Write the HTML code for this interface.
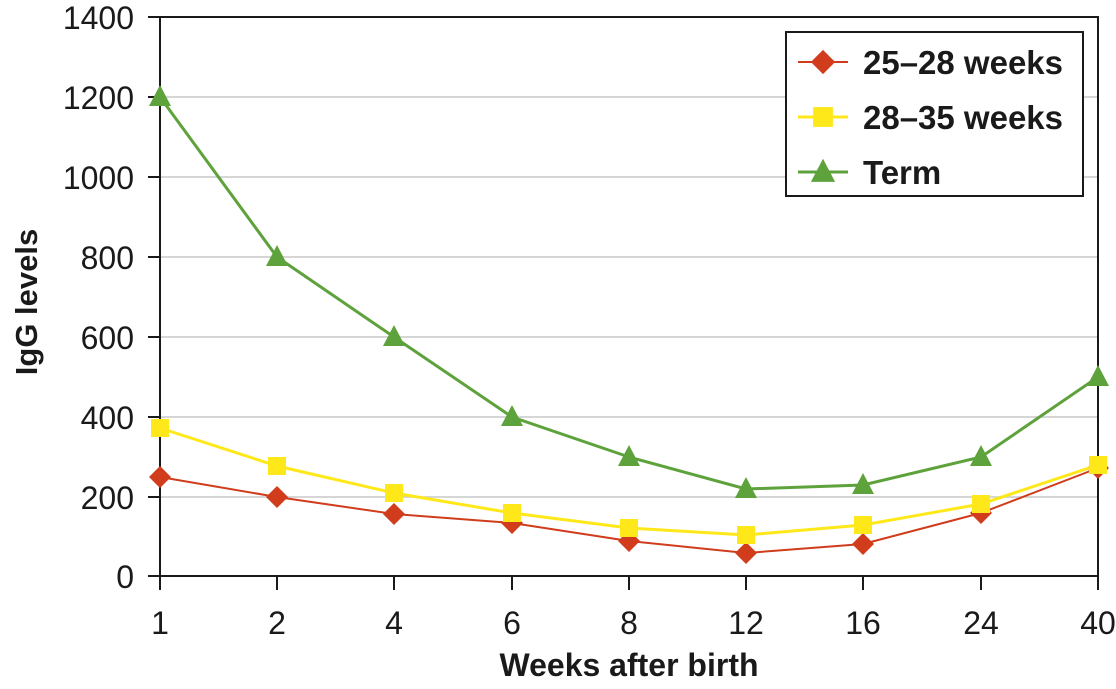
<!DOCTYPE html>
<html><head><style>
body{margin:0;background:#fff;}
text{font-family:"Liberation Sans",Arial,sans-serif;fill:#1a1a1a;}
</style></head><body>
<svg id="s" width="1116" height="684" xmlns="http://www.w3.org/2000/svg">
<g stroke="#c8c8c8" stroke-width="1.5">
<line x1="160" y1="97" x2="1098" y2="97"/><line x1="160" y1="177" x2="1098" y2="177"/>
<line x1="160" y1="257" x2="1098" y2="257"/><line x1="160" y1="337" x2="1098" y2="337"/>
<line x1="160" y1="417" x2="1098" y2="417"/><line x1="160" y1="497" x2="1098" y2="497"/>
</g>
<g stroke="#1a1a1a" stroke-width="2" fill="none">
<rect x="160" y="17" width="938" height="559"/>
<line x1="148" y1="17" x2="160" y2="17"/><line x1="148" y1="97" x2="160" y2="97"/>
<line x1="148" y1="177" x2="160" y2="177"/><line x1="148" y1="257" x2="160" y2="257"/>
<line x1="148" y1="337" x2="160" y2="337"/><line x1="148" y1="417" x2="160" y2="417"/>
<line x1="148" y1="497" x2="160" y2="497"/><line x1="148" y1="576" x2="160" y2="576"/>
<line x1="160" y1="576" x2="160" y2="590"/><line x1="277" y1="576" x2="277" y2="590"/>
<line x1="394" y1="576" x2="394" y2="590"/><line x1="512" y1="576" x2="512" y2="590"/>
<line x1="629" y1="576" x2="629" y2="590"/><line x1="746" y1="576" x2="746" y2="590"/>
<line x1="863" y1="576" x2="863" y2="590"/><line x1="981" y1="576" x2="981" y2="590"/>
<line x1="1098" y1="576" x2="1098" y2="590"/>
</g>
<g font-size="32" text-anchor="end">
<text x="134" y="29">1400</text><text x="134" y="109">1200</text><text x="134" y="189">1000</text>
<text x="134" y="269">800</text><text x="134" y="349">600</text><text x="134" y="429">400</text>
<text x="134" y="509">200</text><text x="134" y="588">0</text>
</g>
<g font-size="32" text-anchor="middle">
<text x="160" y="634">1</text><text x="277" y="634">2</text><text x="394" y="634">4</text>
<text x="512" y="634">6</text><text x="629" y="634">8</text><text x="746" y="634">12</text>
<text x="863" y="634">16</text><text x="981" y="634">24</text><text x="1098" y="634">40</text>
</g>
<text x="629" y="676" font-size="32" font-weight="bold" text-anchor="middle">Weeks after birth</text>
<text transform="translate(37,302) rotate(-90)" font-size="31" font-weight="bold" text-anchor="middle">IgG levels</text>
<g id="series"></g>
<rect x="786" y="32" width="297" height="164" fill="#fff" stroke="#1a1a1a" stroke-width="2"/>
<g font-size="33" font-weight="bold">
<text x="863" y="74">25–28 weeks</text><text x="863" y="129">28–35 weeks</text><text x="863" y="184">Term</text>
</g>
<g id="leg"></g>
</svg>
<script>
var X=[160,277,394,512,629,746,863,981,1098];
var S=[
 {c:"#d03c1c",w:2,m:"d",y:[477,497,514,523,541,553,544,513,468]},
 {c:"#ffe81a",w:3,m:"s",y:[428,466,493,513,528,535,525,504,465]},
 {c:"#5ea23c",w:3,m:"t",y:[97,257,337,417,457,489,485,457,377]}];
var ns="http://www.w3.org/2000/svg";
function el(p,t,a){var e=document.createElementNS(ns,t);for(var k in a)e.setAttribute(k,a[k]);p.appendChild(e);return e;}
function mark(g,m,x,y,c,k){
 k=k||1;
 if(m=="d")el(g,"polygon",{points:x+","+(y-11*k)+" "+(x+11*k)+","+y+" "+x+","+(y+11*k)+" "+(x-11*k)+","+y,fill:c});
 else if(m=="s")el(g,"rect",{x:x-9*k,y:y-9*k,width:18*k,height:18*k,fill:c});
 else el(g,"polygon",{points:x+","+(y-12*k)+" "+(x+11*k)+","+(y+9*k)+" "+(x-11*k)+","+(y+9*k),fill:c});
}
var g=document.getElementById("series"),L=document.getElementById("leg");
S.forEach(function(s,i){
 el(g,"polyline",{points:X.map(function(x,j){return x+","+s.y[j]}).join(" "),fill:"none",stroke:s.c,"stroke-width":s.w});
 X.forEach(function(x,j){mark(g,s.m,x,s.y[j],s.c)});
 var ly=62+i*55;
 el(L,"line",{x1:798,y1:ly,x2:848,y2:ly,stroke:s.c,"stroke-width":s.w});
 mark(L,s.m,823,ly,s.c,1.1);
});
</script>
</body></html>
